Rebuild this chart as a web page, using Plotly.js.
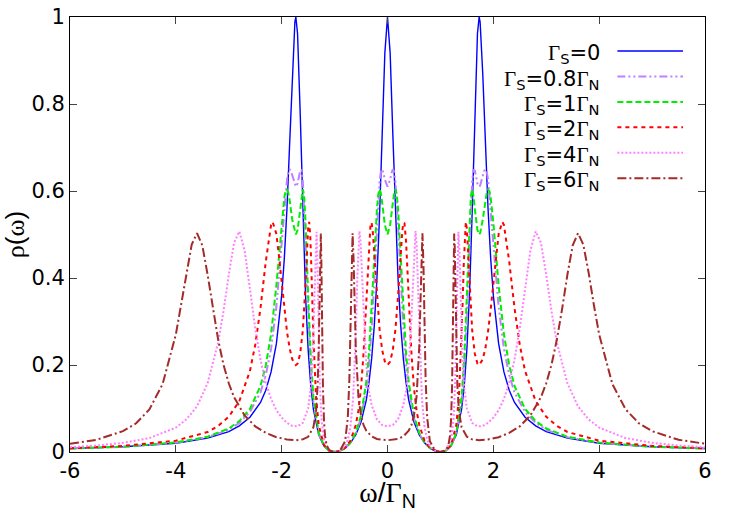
<!DOCTYPE html>
<html>
<head>
<meta charset="utf-8">
<script src="https://cdn.plot.ly/plotly-3.0.1.min.js"></script>
<style>
  html, body { margin: 0; padding: 0; background: #fff; }
  #plot { width: 731px; height: 512px; }
</style>
</head>
<body>
<div id="plot"></div>
<script>
// rho(omega) for several Gamma_S
var omegaS0 = [-6, -5, -4, -3.4, -3, -2.8, -2.6, -2.4, -2.3, -2.2, -2.1, -2, -1.95, -1.9, -1.85, -1.8, -1.75, -1.732, -1.7, -1.65, -1.6, -1.55, -1.5, -1.45, -1.4, -1.3, -1.2, -1.1, -1.05, -1, -0.95, -0.9, -0.8, -0.7, -0.6, -0.5, -0.4, -0.35, -0.3, -0.25, -0.2, -0.15, -0.1, -0.05, 0, 0.05, 0.1, 0.15, 0.2, 0.25, 0.3, 0.35, 0.4, 0.5, 0.6, 0.7, 0.8, 0.9, 0.95, 1, 1.05, 1.1, 1.2, 1.3, 1.4, 1.45, 1.5, 1.55, 1.6, 1.65, 1.7, 1.732, 1.75, 1.8, 1.85, 1.9, 1.95, 2, 2.1, 2.2, 2.3, 2.4, 2.6, 2.8, 3, 3.4, 4, 5, 6];
var rhoS0 = [0.008, 0.012, 0.020, 0.032, 0.047, 0.060, 0.080, 0.114, 0.142, 0.184, 0.249, 0.360, 0.445, 0.559, 0.706, 0.870, 0.989, 1, 0.962, 0.780, 0.551, 0.364, 0.236, 0.152, 0.098, 0.0394, 0.0136, 0.0028, 0.0007, 0, 0.0006, 0.0023, 0.009, 0.021, 0.039, 0.069, 0.120, 0.160, 0.214, 0.290, 0.397, 0.545, 0.733, 0.917, 1, 0.917, 0.733, 0.545, 0.397, 0.290, 0.214, 0.160, 0.120, 0.069, 0.039, 0.021, 0.009, 0.0023, 0.0006, 0, 0.0007, 0.0028, 0.0136, 0.0394, 0.098, 0.152, 0.236, 0.364, 0.551, 0.780, 0.962, 1, 0.989, 0.870, 0.706, 0.559, 0.445, 0.360, 0.249, 0.184, 0.142, 0.114, 0.080, 0.060, 0.047, 0.032, 0.020, 0.012, 0.008];

var omegaS08 = [-6, -5, -4, -3.4, -3, -2.8, -2.6, -2.4, -2.3, -2.2, -2.1, -2, -1.95, -1.9, -1.875, -1.85, -1.825, -1.8, -1.75, -1.732, -1.7, -1.65, -1.625, -1.6, -1.55, -1.5, -1.45, -1.4, -1.3, -1.2, -1.1, -1.05, -1, -0.95, -0.9, -0.8, -0.7, -0.6, -0.5, -0.4, -0.35, -0.3, -0.25, -0.2, -0.15, -0.125, -0.1, -0.075, -0.05, 0, 0.05, 0.075, 0.1, 0.125, 0.15, 0.2, 0.25, 0.3, 0.35, 0.4, 0.5, 0.6, 0.7, 0.8, 0.9, 0.95, 1, 1.05, 1.1, 1.2, 1.3, 1.4, 1.45, 1.5, 1.55, 1.6, 1.625, 1.65, 1.7, 1.732, 1.75, 1.8, 1.825, 1.85, 1.875, 1.9, 1.95, 2, 2.1, 2.2, 2.3, 2.4, 2.6, 2.8, 3, 3.4, 4, 5, 6];
var rhoS08 = [0.008, 0.012, 0.021, 0.034, 0.051, 0.067, 0.092, 0.137, 0.177, 0.237, 0.334, 0.479, 0.561, 0.626, 0.644, 0.650, 0.646, 0.635, 0.612, 0.610, 0.617, 0.647, 0.648, 0.623, 0.484, 0.314, 0.191, 0.115, 0.042, 0.014, 0.0029, 0.0007, 0, 0.0006, 0.0023, 0.009, 0.021, 0.042, 0.078, 0.146, 0.202, 0.282, 0.391, 0.518, 0.621, 0.645, 0.650, 0.641, 0.626, 0.610, 0.626, 0.641, 0.650, 0.645, 0.621, 0.518, 0.391, 0.282, 0.202, 0.146, 0.078, 0.042, 0.021, 0.009, 0.0023, 0.0006, 0, 0.0007, 0.0029, 0.014, 0.042, 0.115, 0.191, 0.314, 0.484, 0.623, 0.648, 0.647, 0.617, 0.610, 0.612, 0.635, 0.646, 0.650, 0.644, 0.626, 0.561, 0.479, 0.334, 0.237, 0.177, 0.137, 0.092, 0.067, 0.051, 0.034, 0.021, 0.012, 0.008];

var omegaS1 = [-6, -5, -4, -3.4, -3, -2.8, -2.6, -2.4, -2.3, -2.2, -2.1, -2, -1.95, -1.925, -1.9, -1.875, -1.85, -1.8, -1.75, -1.732, -1.7, -1.65, -1.625, -1.6, -1.575, -1.55, -1.5, -1.45, -1.4, -1.3, -1.2, -1.1, -1.05, -1, -0.95, -0.9, -0.8, -0.7, -0.6, -0.5, -0.4, -0.35, -0.3, -0.25, -0.2, -0.175, -0.15, -0.125, -0.1, -0.05, 0, 0.05, 0.1, 0.125, 0.15, 0.175, 0.2, 0.25, 0.3, 0.35, 0.4, 0.5, 0.6, 0.7, 0.8, 0.9, 0.95, 1, 1.05, 1.1, 1.2, 1.3, 1.4, 1.45, 1.5, 1.55, 1.575, 1.6, 1.625, 1.65, 1.7, 1.732, 1.75, 1.8, 1.85, 1.875, 1.9, 1.925, 1.95, 2, 2.1, 2.2, 2.3, 2.4, 2.6, 2.8, 3, 3.4, 4, 5, 6];
var rhoS1 = [0.008, 0.012, 0.022, 0.035, 0.054, 0.071, 0.099, 0.152, 0.199, 0.271, 0.383, 0.528, 0.585, 0.600, 0.603, 0.596, 0.579, 0.534, 0.503, 0.500, 0.510, 0.559, 0.589, 0.604, 0.587, 0.532, 0.361, 0.216, 0.126, 0.044, 0.0142, 0.0029, 0.0007, 0, 0.0006, 0.0023, 0.0093, 0.022, 0.044, 0.084, 0.162, 0.229, 0.324, 0.444, 0.558, 0.592, 0.604, 0.595, 0.572, 0.522, 0.500, 0.522, 0.572, 0.595, 0.604, 0.592, 0.558, 0.444, 0.324, 0.229, 0.162, 0.084, 0.044, 0.022, 0.0093, 0.0023, 0.0006, 0, 0.0007, 0.0029, 0.0142, 0.044, 0.126, 0.216, 0.361, 0.532, 0.587, 0.604, 0.589, 0.559, 0.510, 0.500, 0.503, 0.534, 0.579, 0.596, 0.603, 0.600, 0.585, 0.528, 0.383, 0.271, 0.199, 0.152, 0.099, 0.071, 0.054, 0.035, 0.022, 0.012, 0.008];

var omegaS2 = [-6, -5, -4, -3.4, -3.2, -3, -2.8, -2.6, -2.5, -2.4, -2.3, -2.2, -2.17, -2.1, -2.05, -2, -1.95, -1.9, -1.85, -1.8, -1.732, -1.7, -1.65, -1.6, -1.55, -1.52, -1.5, -1.48, -1.46, -1.44, -1.42, -1.4, -1.35, -1.3, -1.2, -1.1, -1.05, -1, -0.95, -0.9, -0.8, -0.7, -0.6, -0.55, -0.5, -0.45, -0.4, -0.35, -0.32, -0.3, -0.28, -0.25, -0.2, -0.15, -0.1, -0.05, 0, 0.05, 0.1, 0.15, 0.2, 0.25, 0.28, 0.3, 0.32, 0.35, 0.4, 0.45, 0.5, 0.55, 0.6, 0.7, 0.8, 0.9, 0.95, 1, 1.05, 1.1, 1.2, 1.3, 1.35, 1.4, 1.42, 1.44, 1.46, 1.48, 1.5, 1.52, 1.55, 1.6, 1.65, 1.7, 1.732, 1.8, 1.85, 1.9, 1.95, 2, 2.05, 2.1, 2.17, 2.2, 2.3, 2.4, 2.5, 2.6, 2.8, 3, 3.2, 3.4, 4, 5, 6];
var rhoS2 = [0.0085, 0.014, 0.026, 0.046, 0.060, 0.081, 0.117, 0.186, 0.246, 0.331, 0.438, 0.522, 0.529, 0.501, 0.449, 0.387, 0.328, 0.277, 0.239, 0.213, 0.200, 0.203, 0.226, 0.280, 0.384, 0.467, 0.513, 0.529, 0.499, 0.428, 0.342, 0.261, 0.126, 0.062, 0.016, 0.0029, 0.0007, 0, 0.0006, 0.0024, 0.010, 0.026, 0.062, 0.095, 0.147, 0.232, 0.356, 0.486, 0.526, 0.527, 0.509, 0.457, 0.359, 0.282, 0.234, 0.208, 0.200, 0.208, 0.234, 0.282, 0.359, 0.457, 0.509, 0.527, 0.526, 0.486, 0.356, 0.232, 0.147, 0.095, 0.062, 0.026, 0.010, 0.0024, 0.0006, 0, 0.0007, 0.0029, 0.016, 0.062, 0.126, 0.261, 0.342, 0.428, 0.499, 0.529, 0.513, 0.467, 0.384, 0.280, 0.226, 0.203, 0.200, 0.213, 0.239, 0.277, 0.328, 0.387, 0.449, 0.501, 0.529, 0.522, 0.438, 0.331, 0.246, 0.186, 0.117, 0.081, 0.060, 0.046, 0.026, 0.014, 0.0085];

var omegaS4 = [-6, -5.5, -5, -4.5, -4, -3.8, -3.6, -3.4, -3.2, -3.1, -3, -2.9, -2.8, -2.7, -2.6, -2.5, -2.4, -2.3, -2.2, -2.1, -2, -1.9, -1.8, -1.732, -1.7, -1.6, -1.5, -1.45, -1.42, -1.4, -1.38, -1.36, -1.34, -1.32, -1.3, -1.28, -1.25, -1.2, -1.1, -1, -0.9, -0.8, -0.75, -0.7, -0.65, -0.62, -0.6, -0.57, -0.55, -0.53, -0.51, -0.49, -0.47, -0.45, -0.4, -0.35, -0.3, -0.2, -0.1, 0, 0.1, 0.2, 0.3, 0.35, 0.4, 0.45, 0.47, 0.49, 0.51, 0.53, 0.55, 0.57, 0.6, 0.62, 0.65, 0.7, 0.75, 0.8, 0.9, 1, 1.1, 1.2, 1.25, 1.28, 1.3, 1.32, 1.34, 1.36, 1.38, 1.4, 1.42, 1.45, 1.5, 1.6, 1.7, 1.732, 1.8, 1.9, 2, 2.1, 2.2, 2.3, 2.4, 2.5, 2.6, 2.7, 2.8, 2.9, 3, 3.1, 3.2, 3.4, 3.6, 3.8, 4, 4.5, 5, 5.5, 6];
var rhoS4 = [0.011, 0.015, 0.021, 0.032, 0.056, 0.075, 0.105, 0.158, 0.252, 0.323, 0.407, 0.481, 0.507, 0.463, 0.375, 0.285, 0.212, 0.159, 0.122, 0.096, 0.079, 0.067, 0.060, 0.059, 0.059, 0.067, 0.100, 0.148, 0.206, 0.268, 0.359, 0.463, 0.506, 0.416, 0.273, 0.165, 0.079, 0.027, 0.0033, 0, 0.0026, 0.014, 0.028, 0.058, 0.123, 0.197, 0.269, 0.401, 0.477, 0.508, 0.484, 0.427, 0.362, 0.302, 0.198, 0.140, 0.108, 0.075, 0.062, 0.059, 0.062, 0.075, 0.108, 0.140, 0.198, 0.302, 0.362, 0.427, 0.484, 0.508, 0.477, 0.401, 0.269, 0.197, 0.123, 0.058, 0.028, 0.014, 0.0026, 0, 0.0033, 0.027, 0.079, 0.165, 0.273, 0.416, 0.506, 0.463, 0.359, 0.268, 0.206, 0.148, 0.100, 0.067, 0.059, 0.059, 0.060, 0.067, 0.079, 0.096, 0.122, 0.159, 0.212, 0.285, 0.375, 0.463, 0.507, 0.481, 0.407, 0.323, 0.252, 0.158, 0.105, 0.075, 0.056, 0.032, 0.021, 0.015, 0.011];

var omegaS6 = [-6, -5.5, -5, -4.75, -4.5, -4.25, -4, -3.9, -3.8, -3.7, -3.6, -3.5, -3.4, -3.3, -3.2, -3.1, -3, -2.9, -2.7, -2.5, -2.3, -2.1, -1.9, -1.732, -1.6, -1.5, -1.4, -1.35, -1.32, -1.3, -1.28, -1.27, -1.26, -1.25, -1.24, -1.22, -1.2, -1.18, -1.15, -1.1, -1, -0.9, -0.8, -0.75, -0.72, -0.7, -0.68, -0.66, -0.64, -0.62, -0.6, -0.55, -0.5, -0.45, -0.4, -0.3, -0.2, 0, 0.2, 0.3, 0.4, 0.45, 0.5, 0.55, 0.6, 0.62, 0.64, 0.66, 0.68, 0.7, 0.72, 0.75, 0.8, 0.9, 1, 1.1, 1.15, 1.18, 1.2, 1.22, 1.24, 1.25, 1.26, 1.27, 1.28, 1.3, 1.32, 1.35, 1.4, 1.5, 1.6, 1.732, 1.9, 2.1, 2.3, 2.5, 2.7, 2.9, 3, 3.1, 3.2, 3.3, 3.4, 3.5, 3.6, 3.7, 3.8, 3.9, 4, 4.25, 4.5, 4.75, 5, 5.5, 6];
var rhoS6 = [0.019, 0.028, 0.048, 0.066, 0.098, 0.156, 0.270, 0.338, 0.413, 0.477, 0.503, 0.475, 0.408, 0.329, 0.258, 0.201, 0.158, 0.126, 0.084, 0.059, 0.044, 0.034, 0.029, 0.027, 0.029, 0.035, 0.057, 0.095, 0.154, 0.239, 0.391, 0.474, 0.502, 0.438, 0.324, 0.149, 0.071, 0.037, 0.015, 0.0039, 0, 0.003, 0.025, 0.079, 0.169, 0.282, 0.428, 0.503, 0.439, 0.330, 0.242, 0.128, 0.083, 0.061, 0.049, 0.036, 0.030, 0.027, 0.030, 0.036, 0.049, 0.061, 0.083, 0.128, 0.242, 0.330, 0.439, 0.503, 0.428, 0.282, 0.169, 0.079, 0.025, 0.003, 0, 0.0039, 0.015, 0.037, 0.071, 0.149, 0.324, 0.438, 0.502, 0.474, 0.391, 0.239, 0.154, 0.095, 0.057, 0.035, 0.029, 0.027, 0.029, 0.034, 0.044, 0.059, 0.084, 0.126, 0.158, 0.201, 0.258, 0.329, 0.408, 0.475, 0.503, 0.477, 0.413, 0.338, 0.270, 0.156, 0.098, 0.066, 0.048, 0.028, 0.019];

// x tick labels written with a plain hyphen, as in the original
var xTickVals = [-6, -4, -2, 0, 2, 4, 6];
var xTickText = ["-6", "-4", "-2", "0", "2", "4", "6"];

// Greek letters in the original come from a serif symbol font
var G = '<span style="font-family:Liberation Serif, DejaVu Serif, serif">Γ</span>';
var labels = [G + "<sub>S</sub>=0", G + "<sub>S</sub>=0.8" + G + "<sub>N</sub>", G + "<sub>S</sub>=1" + G + "<sub>N</sub>",
              G + "<sub>S</sub>=2" + G + "<sub>N</sub>", G + "<sub>S</sub>=4" + G + "<sub>N</sub>", G + "<sub>S</sub>=6" + G + "<sub>N</sub>"];

var xs = [omegaS0, omegaS08, omegaS1, omegaS2, omegaS4, omegaS6];
var ys = [rhoS0, rhoS08, rhoS1, rhoS2, rhoS4, rhoS6];
var colors = ["#0000ff", "#c080ff", "#00ee00", "#ff0000", "#ff80ff", "#a52a2a"];
var dashes = ["solid", "8px,3px,2px,3px,2px,3px", "6px,3px", "4px,4px", "2px,2px", "9px,3px,2px,3px"];
var widths = [1.4, 2, 2, 2, 2, 2];

var SANS = "DejaVu Sans, Liberation Sans, Arial, sans-serif";
var SERIF = "Liberation Serif, DejaVu Serif, serif";

var traces = [];
var shapes = [];
var annotations = [];
for (var i = 0; i < xs.length; i++) {
  traces.push({
    x: xs[i], y: ys[i], type: "scatter", mode: "lines", name: labels[i],
    line: {color: colors[i], width: widths[i], dash: dashes[i]},
    showlegend: false, hoverinfo: "skip"
  });
  // gnuplot-style key: text right-aligned, sample line after it
  var yk = 0.9218 - i * 0.0585;
  annotations.push({
    xref: "paper", yref: "paper", x: 0.8373, y: yk - 0.007,
    xanchor: "right", yanchor: "middle", showarrow: false,
    text: labels[i], font: {family: SANS, size: 21, color: "#000"}
  });
  shapes.push({
    type: "line", xref: "paper", yref: "paper",
    x0: 0.862, x1: 0.9654, y0: yk, y1: yk,
    line: {color: colors[i], width: widths[i], dash: dashes[i]}
  });
}

var layout = {
  width: 731, height: 512,
  margin: {l: 70, r: 26, t: 17, b: 60},
  paper_bgcolor: "#fff", plot_bgcolor: "#fff",
  font: {family: SANS, size: 21, color: "#000"},
  xaxis: {
    range: [-6, 6], tickmode: "array", tickvals: xTickVals, ticktext: xTickText,
    ticks: "inside", ticklen: 7,
    showline: true, linecolor: "#000", linewidth: 1, mirror: "ticks",
    showgrid: false, zeroline: false,
    tickfont: {family: SANS, size: 21},
    title: {
      text: '<span style="font-family:' + SERIF + '">ω</span>/<span style="font-family:' + SERIF + '">Γ</span><sub>N</sub>',
      font: {family: "Liberation Sans, Arial, sans-serif", size: 28}, standoff: 0
    }
  },
  yaxis: {
    range: [0, 1], tick0: 0, dtick: 0.2, ticks: "inside", ticklen: 7,
    showline: true, linecolor: "#000", linewidth: 1, mirror: "ticks",
    showgrid: false, zeroline: false,
    tickfont: {family: SANS, size: 21},
    title: {
      text: '<span style="font-family:' + SERIF + '">ρ</span>(<span style="font-family:' + SERIF + '">ω</span>)',
      font: {family: "Liberation Sans, Arial, sans-serif", size: 26}, standoff: 0
    }
  },
  shapes: shapes,
  annotations: annotations
};

Plotly.newPlot("plot", traces, layout, {staticPlot: true, displayModeBar: false});
</script>
</body>
</html>
